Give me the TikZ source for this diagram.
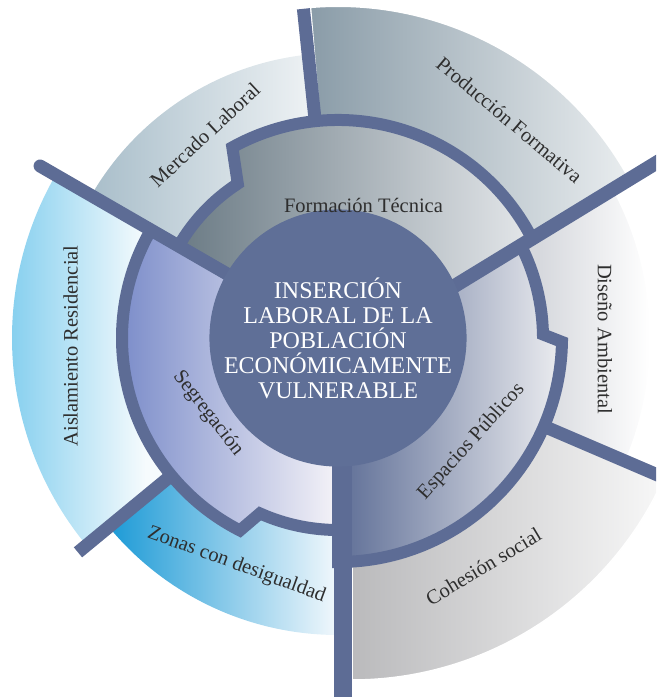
\documentclass[tikz,border=0pt]{standalone}
\usepackage{fontspec}
\setmainfont{Liberation Serif}
\definecolor{sep}{HTML}{5D6C95}
\definecolor{core}{HTML}{5F6F97}
\definecolor{txt}{HTML}{2E2E2E}
\definecolor{disM}{HTML}{D6D8DD}
\definecolor{cohL}{HTML}{BABABC}
\definecolor{cohR}{HTML}{F8F8F8}
\definecolor{zonL}{HTML}{1C9AD6}
\definecolor{zonR}{HTML}{F2F8FC}
\definecolor{aisL}{HTML}{88D0EF}
\definecolor{aisR}{HTML}{F6FBFD}
\definecolor{merL}{HTML}{A9BECA}
\definecolor{merR}{HTML}{F6F8F9}
\definecolor{proL}{HTML}{8A9CA8}
\definecolor{proR}{HTML}{E9EDEF}
\definecolor{forL}{HTML}{6B7B85}
\definecolor{forR}{HTML}{E4E7EA}
\definecolor{segL}{HTML}{7789C8}
\definecolor{segR}{HTML}{F5F3F8}
\definecolor{espL}{HTML}{5E6E96}
\definecolor{espR}{HTML}{ECEDF0}
\begin{document}
\begin{tikzpicture}[x=1pt,y=1pt,
  sepline/.style={draw=sep, line width=13pt},
  midsec/.style={draw=sep, line width=12pt, line join=miter},
  lbl/.style={text=txt, font=\fontsize{20.5}{24}\selectfont, inner sep=0pt},
  ctr/.style={circle, fill=core, minimum size=212pt, inner sep=0pt, text=white,
              font=\fontsize{24}{25}\selectfont, align=center}]
\useasboundingbox (-338,-362) rectangle (318,338);
\clip (-338,-362) rectangle (318,338);

% ---------- outer ring ----------
% Diseno Ambiental
\begin{scope}
  \clip (0,0) -- (-23.2:312) arc[start angle=-23.2, end angle=28.39, radius=312] -- cycle;
  \shade[left color=disM, right color=white] (200,-200) rectangle (312,200);
  \fill[disM] (0,-200) rectangle (200.5,200);
\end{scope}
% Cohesion social
\path[shift={(14,0)}, left color=cohL, right color=cohR, draw=white, line width=1.5pt]
  (0,0) -- (-90:342) arc[start angle=-90, end angle=-23.2, radius=342] -- cycle;
% Zonas con desigualdad
\path[left color=zonL, right color=zonR]
  (0,0) -- (219.5:297) arc[start angle=219.5, end angle=270, radius=297] -- cycle;
% Aislamiento Residencial
\begin{scope}
  \clip (0,0) -- (150:326) arc[start angle=150, end angle=219.5, radius=326] -- cycle;
  \shade[left color=aisL, right color=aisR] (-326,-400) rectangle (-192,400);
  \fill[aisR] (-192.5,-400) rectangle (0,400);
\end{scope}
% Mercado Laboral
\path[left color=merL, right color=merR]
  (0,0) -- (96:285) arc[start angle=96, end angle=150, radius=285] -- cycle;
% Produccion Formativa
\path[left color=proL, right color=proR, draw=white, line width=2pt]
  (0,0) -- (28.58:332) arc[start angle=28.58, end angle=94.8, radius=332] -- cycle;

% ---------- middle ring ----------
% Formacion Tecnica
\path[midsec, left color=forL, right color=forR]
  (0,0) -- (75.9,27.2) -- (194.1,99.3) arc[start angle=27.09, end angle=119, radius=218]
  -- (123:184) arc[start angle=123, end angle=150, radius=184] -- cycle;
% Segregacion
\path[midsec, left color=segL, right color=segR]
  (0,0) -- (150:216) arc[start angle=150, end angle=243, radius=216]
  -- (246:192) arc[start angle=246, end angle=270, radius=192] -- cycle;
% Espacios Publicos
\path[midsec, left color=espL, right color=espR]
  (0,0) -- (75.9,27.2) -- (182.9,92.5) arc[start angle=26.83, end angle=1, radius=205]
  -- (-1:224) arc[start angle=-1, end angle=-90, radius=224] -- cycle;

% ---------- separators ----------
\draw[sepline, line cap=round] (0,0) -- (150:344);
\draw[sepline] (96:218) -- (96:331);
\draw[sepline, line width=14pt] (75.9,27.2) -- (331.9,183.5);
\draw[sepline] (-23.2:224) -- (-23.2:372);
\draw[sepline, line width=18pt] (4.5,-90) -- (4.5,-359);
\draw[sepline] (219.5:216) -- (219.5:337);

% ---------- centre ----------
\node[ctr] (core) at (0,0) {INSERCIÓN\\LABORAL DE LA\\POBLACIÓN\\ECONÓMICAMENTE\\VULNERABLE};

% ---------- labels ----------
\node[lbl, rotate=43] (mercado) at (-133,203) {Mercado Laboral};
\node[lbl, rotate=-40] (produccion) at (171.5,218) {Producción Formativa};
\node[lbl] (formacion) at (25.5,133) {Formación Técnica};
\node[lbl, rotate=-90] (diseno) at (267,-1) {Diseño Ambiental};
\node[lbl, rotate=48] (espacios) at (133.5,-103.5) {Espacios Públicos};
\node[lbl, rotate=31] (cohesion) at (145.5,-228.5) {Cohesión social};
\node[lbl, rotate=-20] (zonas) at (-101.5,-227) {Zonas con desigualdad};
\node[lbl, rotate=-52] (segregacion) at (-130,-75.5) {Segregación};
\node[lbl, rotate=90] (aislamiento) at (-267.5,-8) {Aislamiento Residencial};
\end{tikzpicture}
\end{document}
